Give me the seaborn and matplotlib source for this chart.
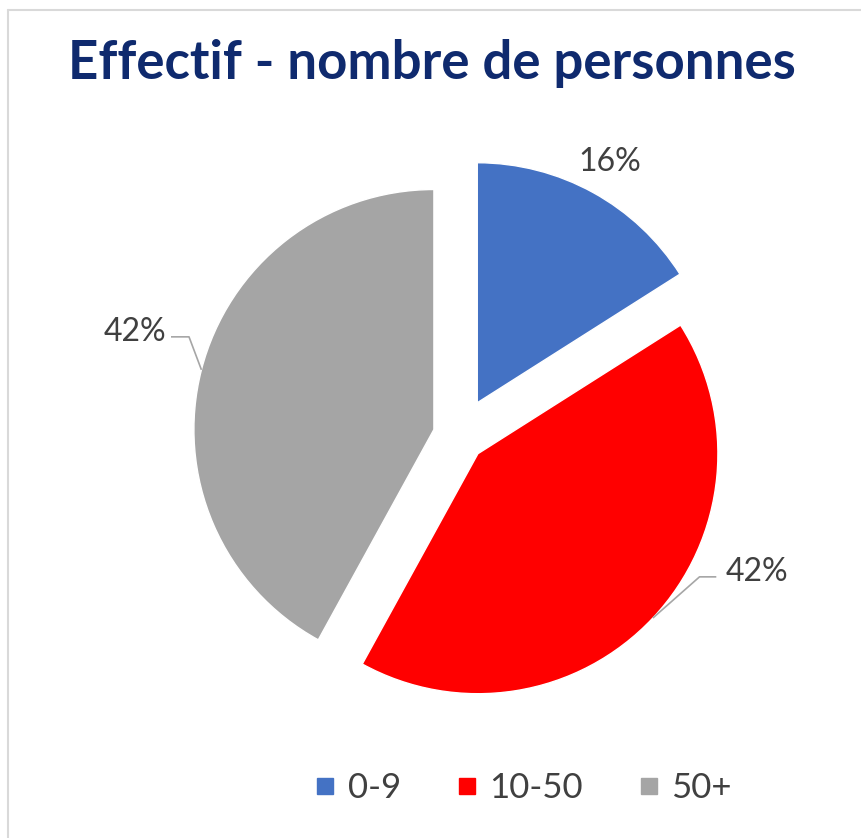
import numpy as np
import matplotlib.pyplot as plt
import seaborn as sns
from matplotlib.lines import Line2D

# data
categories = ['0-9', '10-50', '50+']
shares = [16, 42, 42]
pct_labels = ['16%', '42%', '42%']
title = 'Effectif - nombre de personnes'

# style / layout
colors = ['#4472C4', '#FF0000', '#A5A5A5']
explode = [0.158, 0.108, 0.108]
label_xy = [(0.629, 1.142), (1.242, -0.567), (-1.35, 0.433)]
label_edge = [None, -0.17, 0.15]   # where the leader line leaves the label
elbow_dx = [0, -0.07, 0.075]

sns.set_theme(style='white')
plt.rcParams['font.family'] = ['Lato', 'DejaVu Sans']

fig = plt.figure(figsize=(8.62, 8.38), dpi=100)
ax = fig.add_axes([0.0870, 0.0215, 0.8910, 0.9165])

wedges, _ = ax.pie(shares, colors=colors, explode=explode, startangle=90,
                   counterclock=False, radius=1.0)
ax.set_xlim(-1.6, 1.6)
ax.set_ylim(-1.6, 1.6)
ax.axis('off')

for i, w in enumerate(wedges):
    lx, ly = label_xy[i]
    ax.text(lx, ly, pct_labels[i], ha='center', va='center', fontsize=23,
            color='#404040')
    if label_edge[i] is not None:
        mid = np.deg2rad((w.theta1 + w.theta2) / 2)
        cx, cy = w.center
        px, py = cx + w.r * np.cos(mid), cy + w.r * np.sin(mid)
        sx = lx + label_edge[i]
        ex = sx + elbow_dx[i]
        ax.plot([sx, ex, px], [ly - 0.02, ly - 0.02, py], color='#A6A6A6',
                lw=1.2, solid_capstyle='butt')

fig.text(0.501, 0.924, title, ha='center', va='center', fontsize=38,
         fontweight='bold', color='#0F2A6E')

handles = [Line2D([], [], marker='s', linestyle='', markersize=12,
                  markerfacecolor=c, markeredgecolor=c) for c in colors]
fig.legend(handles, categories, loc='center', bbox_to_anchor=(0.607, 0.060),
           ncol=3, frameon=False, fontsize=25, handlelength=0.6,
           handletextpad=0.35, columnspacing=1.6, labelcolor='#404040')

# chart area border (only top and left edges visible)
fig.add_artist(Line2D([8 / 862, 1], [1 - 10 / 838, 1 - 10 / 838],
                      transform=fig.transFigure, color='#D9D9D9', lw=1.5))
fig.add_artist(Line2D([8 / 862, 8 / 862], [0, 1 - 10 / 838],
                      transform=fig.transFigure, color='#D9D9D9', lw=1.5))

fig.savefig('out.png', dpi=100, facecolor='white')
